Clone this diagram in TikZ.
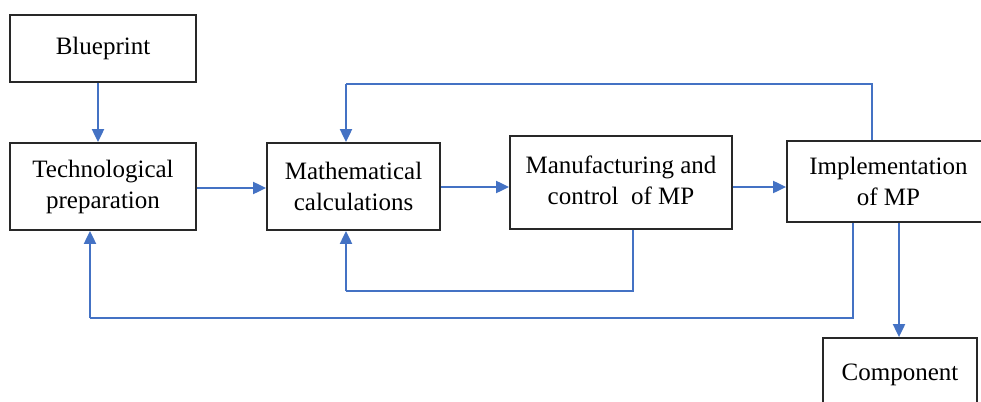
\documentclass[tikz,border=0pt]{standalone}
\usepackage{fontspec}
\setmainfont{Liberation Serif}
\usetikzlibrary{arrows.meta,calc}
\definecolor{flowblue}{RGB}{68,114,196}
\definecolor{boxline}{RGB}{40,40,40}
\tikzset{
  blk/.style={draw=boxline, line width=1.8pt, fill=white, align=center, inner sep=2pt,
    font=\fontsize{25}{31}\selectfont},
  arr/.style={draw=flowblue, line width=2pt, -{Triangle[length=13pt,width=12pt]}},
  ln/.style={draw=flowblue, line width=2pt}
}
\begin{document}
\begin{tikzpicture}[x=1pt,y=-1pt]
\useasboundingbox (0,0) rectangle (981,401);
\clip (0,0) rectangle (981,401);
\fill[white] (0,0) rectangle (981,401);
\node[blk, minimum width=186pt, minimum height=67pt] (bp) at (103,48.5) {Blueprint};
\node[blk, minimum width=186pt, minimum height=87pt] (tech) at (103,186.5) {Technological\\preparation};
\node[blk, minimum width=173pt, minimum height=87pt] (math) at (353.5,186.5) {Mathematical\\calculations};
\node[blk, minimum width=222pt, minimum height=93pt] (mfg) at (621,182.5) {\raisebox{5pt}{\begin{tabular}{@{}c@{}}Manufacturing and\\control\ \ of MP\end{tabular}}};
\node[blk, minimum width=203pt, minimum height=81pt] (impl) at (888.5,181.5) {Implementation\\of MP};
\node[blk, minimum width=154pt, minimum height=74pt] (comp) at (900,375) {Component};

% forward flow
\draw[arr] ([xshift=-5pt]bp.south) -- ([xshift=-5pt]tech.north);
\draw[arr] ([yshift=-1.5pt]tech.east) -- ([yshift=-1.5pt]math.west);
\coordinate (m1) at ([yshift=-0.5pt]math.east);
\draw[arr] (m1) -- (mfg.west |- m1);
\coordinate (m2) at ([yshift=-4.5pt]mfg.east);
\draw[arr] (m2) -- (impl.west |- m2);

% feedback loops
\coordinate (topr) at ([xshift=-16.5pt]impl.north);
\coordinate (topl) at ([xshift=-7.5pt]math.north);
\coordinate (toplevel) at (0,84);
\draw[ln] (topr) -- (topr |- toplevel) -- (topl |- toplevel);
\draw[arr] (topl |- toplevel) -- (topl);

\coordinate (mfgb) at ([xshift=12pt]mfg.south);
\coordinate (mathb) at ([xshift=-7.5pt]math.south);
\coordinate (midlevel) at (0,291);
\draw[ln] (mfgb) -- (mfgb |- midlevel) -- (mathb |- midlevel);
\draw[arr] (mathb |- midlevel) -- (mathb);

\coordinate (implb) at ([xshift=-35.5pt]impl.south);
\coordinate (techb) at ([xshift=-13pt]tech.south);
\coordinate (lowlevel) at (0,318);
\draw[ln] (implb) -- (implb |- lowlevel) -- (techb |- lowlevel);
\draw[arr] (techb |- lowlevel) -- (techb);

% output
\coordinate (implo) at ([xshift=10.5pt]impl.south);
\draw[arr] (implo) -- (implo |- comp.north);
\end{tikzpicture}
\end{document}
